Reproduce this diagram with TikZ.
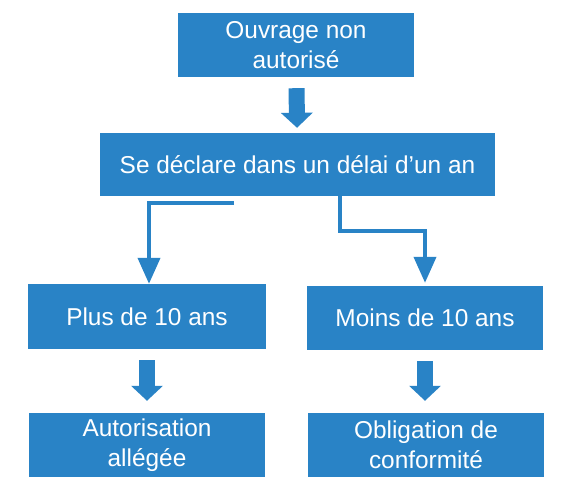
\documentclass[tikz,border=0pt]{standalone}
\usepackage{fontspec}
\setmainfont{Liberation Sans}
\usepackage{xcolor}
\usetikzlibrary{arrows.meta,positioning,calc}
\definecolor{boxblue}{RGB}{41,131,198}

\begin{document}
\begin{tikzpicture}[x=1bp, y=-1bp, font=\fontsize{24.5}{30}\selectfont]
\tikzstyle{box}=[fill=boxblue, text=white, align=center, inner sep=0pt, minimum width=236bp, minimum height=64bp]
\tikzstyle{bigarrow}=[draw=boxblue, line width=16bp, -{Triangle[width=31bp,length=15bp]}]
\tikzstyle{conn}=[draw=boxblue, line width=4bp, -{Triangle[width=22bp,length=26bp]}]

\useasboundingbox (0,0) rectangle (567,489);

\node[box] (ouv) at (296,45) {Ouvrage non\\autorisé};
\node[box, minimum width=395bp, minimum height=63bp] (decl) at (297.5,164.5) {Se déclare dans un délai d’un an};
\node[box, minimum width=238bp, minimum height=65bp] (plus) at (147,316.5) {Plus de 10 ans};
\node[box] (moins) at (425,318) {Moins de 10 ans};
\node[box] (allege) at (147,445) {Autorisation\\allégée};
\node[box] (conf) at (426,445) {Obligation de\\conformité};

\coordinate (lstart) at (234,203);

\draw[bigarrow, shorten <=11bp, shorten >=5bp] (ouv) -- (decl);
\draw[conn] (lstart) -| ([xshift=2bp]plus.north);
\draw[conn, shorten >=3bp] ([xshift=42bp]decl.south) |- ($(moins.north)+(0,-55)$) -- (moins.north);
\draw[bigarrow, shorten <=11bp, shorten >=12bp] (plus) -- (allege);
\draw[bigarrow, shorten <=11bp, shorten >=12bp] (moins.south) -- (moins.south |- conf.north);
\end{tikzpicture}
\end{document}
